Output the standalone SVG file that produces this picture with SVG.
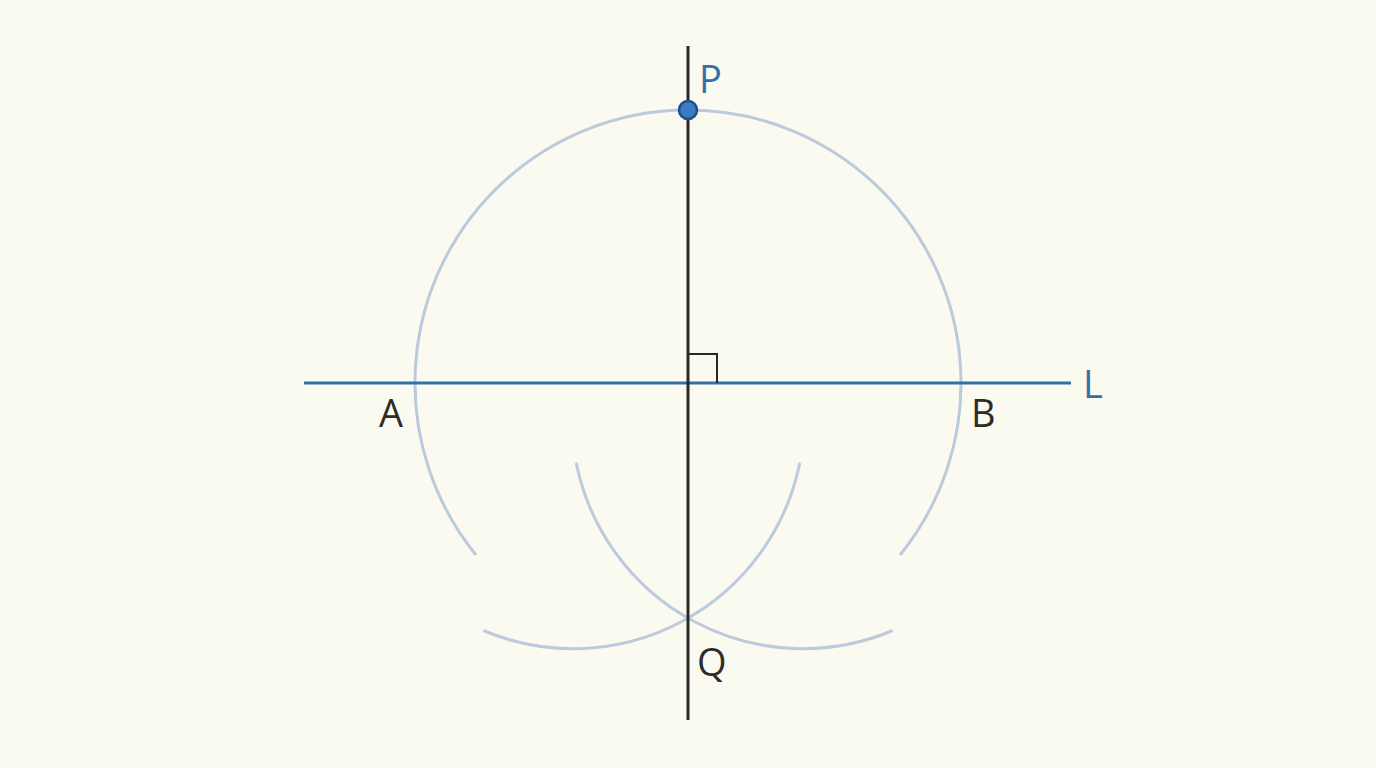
<svg xmlns="http://www.w3.org/2000/svg" width="1376" height="768" viewBox="0 0 1376 768">
<style>
.arc{fill:none;stroke:#bccadd;stroke-width:3;stroke-linecap:round}
.lbl{font-family:"Open Sans","Liberation Sans",sans-serif;font-size:38px}
.dark{fill:#2e2c28}
.blue{fill:#3470a8}
</style>
<rect width="1376" height="768" fill="#fafaf1"/>
<g id="construction-arcs">
<path class="arc" d="M 475.2 554 A 273 273 0 1 1 900.8 554"/>
<path class="arc" d="M 576.5 464 A 231 231 0 0 0 891.5 631"/>
<path class="arc" d="M 799.5 464 A 231 231 0 0 1 484.5 631"/>
</g>
<g id="connectors">
<line id="line-L" x1="304" y1="383" x2="1071" y2="383" stroke="#3470a8" stroke-width="3"/>
<line id="perpendicular" x1="688" y1="46" x2="688" y2="720" stroke="#2a2926" stroke-width="3"/>
<path id="right-angle" d="M 689 354 H 717 V 383" fill="none" stroke="#2a2926" stroke-width="2"/>
</g>
<g id="node-P">
<circle cx="688" cy="110" r="9" fill="#3a7bc4" stroke="#1f4f85" stroke-width="2.5"/>
<text class="lbl blue" x="699" y="93">P</text>
</g>
<g id="node-L"><text class="lbl blue" x="1083" y="398">L</text></g>
<g id="node-A"><text class="lbl dark" x="379" y="427">A</text></g>
<g id="node-B"><text class="lbl dark" x="971" y="427">B</text></g>
<g id="node-Q"><text class="lbl dark" x="697" y="676">Q</text></g>
</svg>
